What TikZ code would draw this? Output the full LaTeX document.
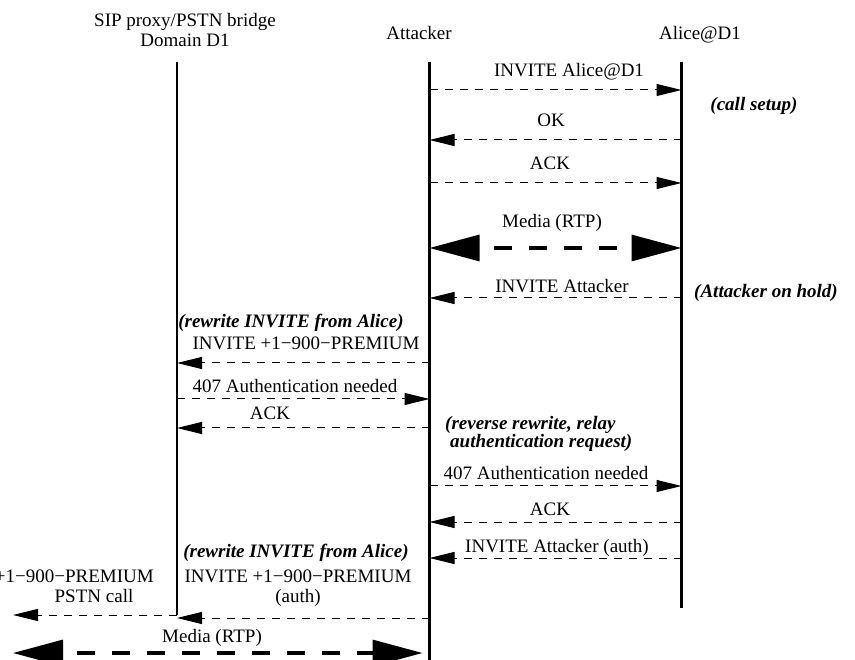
\documentclass[tikz,border=0pt]{standalone}
\usepackage{fontspec}
\setmainfont{Liberation Serif}
\usetikzlibrary{calc, arrows.meta}

\begin{document}
\begin{tikzpicture}[x=1pt, y=-1pt,
    lbl/.style={anchor=base, inner sep=0pt, font=\fontsize{19}{20}\selectfont},
    note/.style={lbl, font=\fontsize{19}{18}\selectfont\bfseries\itshape},
    life/.style={line width=2.8pt},
    msg/.style={-{Triangle[length=25pt, width=12pt]}, line width=1pt, dash pattern=on 8pt off 7pt},
    media/.style={{Triangle[length=50pt, width=26pt]}-{Triangle[length=50pt, width=26pt]}, line width=3.2pt, dash pattern=on 18pt off 17pt, dash phase=20pt}]
        \useasboundingbox (0,0) rectangle (855,660);

        \node[lbl, align=center](PR) at (185,47){SIP proxy/PSTN bridge\\Domain D1};
        \node[lbl](AT) at (419,40){Attacker};
        \node[lbl](AL) at (700,40){Alice@D1};

        \coordinate (PR_top) at (177,62);
        \coordinate (PR_end) at (177,615);
        \coordinate (AT_top) at (429.5,62);
        \coordinate (AT_end) at (429.5,660);
        \coordinate (AL_top) at (681.5,62);
        \coordinate (AL_end) at (681.5,608);

        \path[life] (PR_top) edge (PR_end);
        \path[life] (AT_top) edge (AT_end);
        \path[life] (AL_top) edge (AL_end);

        \foreach \r/\y in {1/90, 2/140, 3/183, 4/248, 5/298, 6/363, 7/399, 8/428, 9/486, 10/522, 11/558, 12/618, 13/653} {
            \coordinate (PR_\r) at (177,\y);
            \coordinate (AT_\r) at (429.5,\y);
            \coordinate (AL_\r) at (681.5,\y);
        }
        \coordinate (PSTN_call) at (13,615);
        \coordinate (PSTN_media) at (13,653);

        \node[lbl](m1) at (569,77){INVITE Alice@D1};
        \node[lbl](m2) at (551,127){OK};
        \node[lbl](m3) at (550,170){ACK};
        \node[note](n1) at (754,111){(call setup)};
        \node[lbl](m4) at (552,228){Media (RTP)};
        \node[lbl](m5) at (562,293){INVITE Attacker};
        \node[note](n2) at (766,298){(Attacker on hold)};

        \path[msg] (AT_1) edge (AL_1);
        \path[msg] (AL_2) edge (AT_2);
        \path[msg] (AT_3) edge (AL_3);
        \path[media] (AT_4) edge (AL_4);
        \path[msg] (AL_5) edge (AT_5);

        \node[note](n3) at (291,328){(rewrite INVITE from Alice)};
        \node[lbl](m6) at (306,350){INVITE +1−900−PREMIUM};
        \node[lbl](m7) at (295,393){407 Authentication needed};
        \node[lbl](m8) at (270,420){ACK};
        \node[note, align=left, anchor=base west](n4) at (445,448){(reverse rewrite, relay\\\hspace*{5pt}authentication request)};

        \path[msg] (AT_6) edge (PR_6);
        \path[msg] (PR_7) edge (AT_7);
        \path[msg] (AT_8) edge (PR_8);

        \node[lbl](m9) at (546,480){407 Authentication needed};
        \node[lbl](m10) at (550,515){ACK};
        \node[lbl](m11) at (557,552){INVITE Attacker (auth)};

        \path[msg] (AT_9) edge (AL_9);
        \path[msg] (AL_10) edge (AT_10);
        \path[msg] (AL_11) edge (AT_11);

        \node[note](n5) at (296,558){(rewrite INVITE from Alice)};
        \node[lbl, align=center](m12) at (298,602){INVITE +1−900−PREMIUM\\(auth)};
        \node[lbl, anchor=base east](m13) at (154,582){+1−900−PREMIUM};
        \node[lbl](m14) at (94,602){PSTN call};
        \node[lbl](m15) at (212,642){Media (RTP)};

        \path[msg] (AT_12) edge (PR_12);
        \path[msg] (PR_end) edge (PSTN_call);
        \path[media, shorten >=7pt] (PSTN_media) edge (AT_13);
    \end{tikzpicture}
\end{document}
